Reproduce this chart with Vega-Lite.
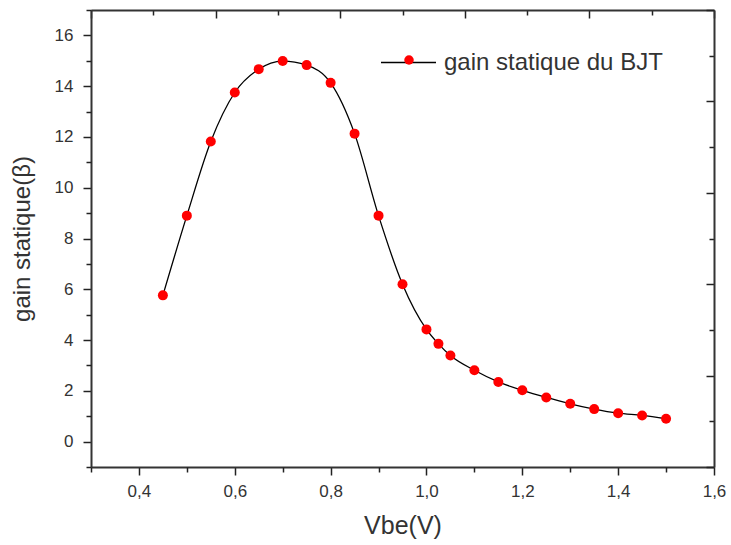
{
  "$schema": "https://vega.github.io/schema/vega-lite/v6.json",
  "width": 623,
  "height": 457,
  "autosize": {"type": "none"},
  "padding": {"left": 91, "top": 10, "right": 17, "bottom": 78},
  "background": "white",
  "config": {"view": {"stroke": null}, "font": "Liberation Sans"},
  "data": {"values": [
    {"vbe": 0.45, "beta": 5.76},
    {"vbe": 0.5, "beta": 8.9},
    {"vbe": 0.55, "beta": 11.82},
    {"vbe": 0.6, "beta": 13.75},
    {"vbe": 0.65, "beta": 14.67},
    {"vbe": 0.7, "beta": 14.99},
    {"vbe": 0.75, "beta": 14.83},
    {"vbe": 0.8, "beta": 14.13},
    {"vbe": 0.85, "beta": 12.13},
    {"vbe": 0.9, "beta": 8.9},
    {"vbe": 0.95, "beta": 6.2},
    {"vbe": 1.0, "beta": 4.42},
    {"vbe": 1.025, "beta": 3.85},
    {"vbe": 1.05, "beta": 3.39},
    {"vbe": 1.1, "beta": 2.81},
    {"vbe": 1.15, "beta": 2.35},
    {"vbe": 1.2, "beta": 2.02},
    {"vbe": 1.25, "beta": 1.74},
    {"vbe": 1.3, "beta": 1.49},
    {"vbe": 1.35, "beta": 1.28},
    {"vbe": 1.4, "beta": 1.12},
    {"vbe": 1.45, "beta": 1.03},
    {"vbe": 1.5, "beta": 0.9}
  ]},
  "layer": [
    {
      "encoding": {
        "x": {
          "field": "vbe", "type": "quantitative",
          "scale": {"domain": [0.3, 1.6], "nice": false, "zero": false},
          "axis": {
            "orient": "bottom",
            "values": [0.4, 0.6, 0.8, 1.0, 1.2, 1.4, 1.6],
            "labelExpr": "replace(format(datum.value, '.1f'), '.', ',')",
            "tickSize": 8,
            "tickColor": "#222", "tickWidth": 1.5,
            "domainColor": "#333", "domainWidth": 2,
            "grid": false,
            "labelFontSize": 17, "labelColor": "#333", "labelPadding": 8, "labelFlush": false,
            "title": "Vbe(V)", "titleFontSize": 25, "titleFontWeight": "normal", "titleColor": "#333", "titlePadding": 14
          }
        },
        "y": {
          "field": "beta", "type": "quantitative",
          "scale": {"domain": [-1, 17], "nice": false, "zero": false},
          "axis": {
            "orient": "left",
            "values": [0, 2, 4, 6, 8, 10, 12, 14, 16],
            "tickSize": 8,
            "tickColor": "#222", "tickWidth": 1.5,
            "domainColor": "#333", "domainWidth": 2,
            "grid": false,
            "labelFontSize": 17, "labelColor": "#333", "labelPadding": 10, "labelFlush": false,
            "title": "gain statique(β)", "titleFontSize": 24, "titleFontWeight": "normal", "titleColor": "#333", "titlePadding": 20
          }
        }
      },
      "layer": [
        {
          "mark": {"type": "line", "interpolate": "monotone", "strokeWidth": 1.3},
          "encoding": {
            "stroke": {
              "datum": "gain statique du BJT",
              "scale": {"range": ["black"]},
              "legend": {
                "orient": "none", "legendX": 289, "legendY": 24,
                "title": null, "padding": 0,
                "symbolType": "stroke", "symbolSize": 3025, "symbolStrokeWidth": 1.3,
                "labelFontSize": 24, "labelColor": "#333", "labelOffset": 7, "labelLimit": 400
              }
            }
          }
        },
        {
          "mark": {"type": "point", "filled": true, "shape": "circle", "size": 100, "opacity": 1, "strokeWidth": 0},
          "encoding": {
            "fill": {
              "datum": "BJT",
              "scale": {"range": ["#ff0000"]},
              "legend": {
                "orient": "none", "legendX": 313, "legendY": 45,
                "title": null, "padding": 0,
                "symbolType": "circle", "symbolSize": 90, "symbolStrokeWidth": 0, "symbolOpacity": 1,
                "labelExpr": "''", "labelFontSize": 1
              }
            }
          }
        }
      ]
    },
    {
      "mark": {"type": "point", "opacity": 0, "clip": true},
      "encoding": {
        "x": {
          "field": "vbe", "type": "quantitative",
          "scale": {"domain": [0.3, 1.6], "nice": false, "zero": false},
          "axis": {
            "orient": "bottom", "values": [0.3, 0.5, 0.7, 0.9, 1.1, 1.3, 1.5],
            "labels": false, "title": null, "grid": false, "domain": false,
            "tickSize": 5, "tickColor": "#222", "tickWidth": 1.5
          }
        },
        "y": {
          "field": "beta", "type": "quantitative",
          "scale": {"domain": [-1, 17], "nice": false, "zero": false},
          "axis": {
            "orient": "left", "values": [-1, 1, 3, 5, 7, 9, 11, 13, 15, 17],
            "labels": false, "title": null, "grid": false, "domain": false,
            "tickSize": 5, "tickColor": "#222", "tickWidth": 1.5
          }
        }
      }
    },
    {
      "mark": {"type": "point", "opacity": 0, "clip": true},
      "encoding": {
        "x": {
          "field": "vbe", "type": "quantitative",
          "scale": {"domain": [0, 10], "nice": false, "zero": false},
          "axis": {
            "orient": "top", "values": [0, 1, 2, 3, 4, 5, 6, 7, 8, 9, 10],
            "labels": false, "title": null, "grid": false,
            "tickSize": {"condition": {"test": "datum.value % 2 === 0", "value": -8}, "value": -5},
            "tickColor": "#222", "tickWidth": 1.5,
            "domainColor": "#333", "domainWidth": 2
          }
        },
        "y": {
          "field": "beta", "type": "quantitative",
          "scale": {"domain": [0, 10], "nice": false, "zero": false},
          "axis": {
            "orient": "right", "values": [0, 1, 2, 3, 4, 5, 6, 7, 8, 9, 10],
            "labels": false, "title": null, "grid": false,
            "tickSize": {"condition": {"test": "datum.value % 2 === 0", "value": -8}, "value": -5},
            "tickColor": "#222", "tickWidth": 1.5,
            "domainColor": "#333", "domainWidth": 2
          }
        }
      }
    }
  ],
  "resolve": {"scale": {"x": "independent", "y": "independent"}}
}
